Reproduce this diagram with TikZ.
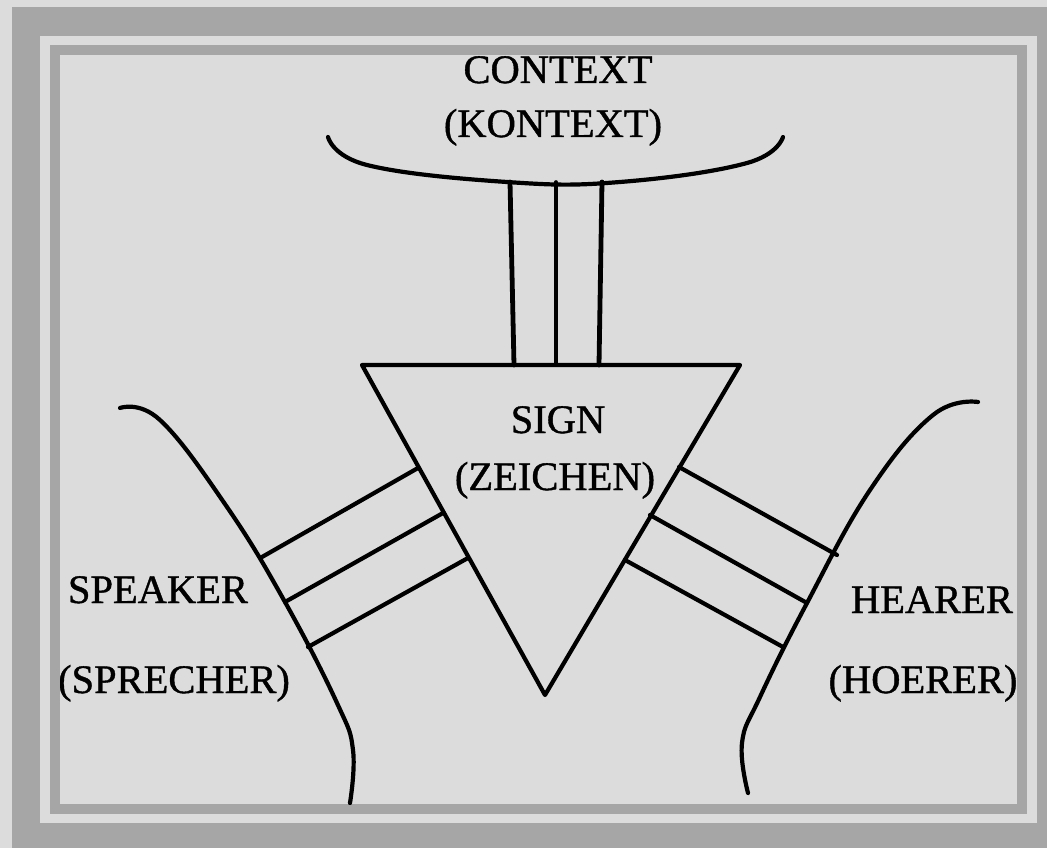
\documentclass[tikz,border=0pt]{standalone}
\usepackage{fontspec}
\setmainfont{Liberation Serif}[FakeBold=1.0]
\definecolor{framedark}{HTML}{A6A6A6}
\definecolor{framelight}{HTML}{DCDCDC}
\begin{document}
\begin{tikzpicture}[x=1pt,y=-1pt,
  ink/.style={line width=4.2pt,line cap=round,line join=round,black},
  lbl/.style={anchor=base,inner sep=0pt,font=\fontsize{40.5}{48}\selectfont}]
\useasboundingbox (0,0) rectangle (1047,848);
% frame
\fill[framedark] (0,0) rectangle (1047,848);
\fill[framelight] (0,0) rectangle (1047,7);
\fill[framelight] (0,0) rectangle (12,848);
\fill[framelight] (40,36) rectangle (1037,823);
\fill[framedark] (50,45) rectangle (1027,814);
\fill[framelight] (60,55) rectangle (1017,804);
\begin{scope}
\clip (60,55) rectangle (1017,804);
% labels
\node[lbl] (ctx) at (558,83) {CONTEXT};
\node[lbl] (ktx) at (553,137) {(KONTEXT)};
\node[lbl] (sign) at (558,433) {SIGN};
\node[lbl] (zei) at (555,490) {(ZEICHEN)};
\node[lbl] (spk) at (158,603) {SPEAKER};
\node[lbl] (spr) at (174,693) {(SPRECHER)};
\node[lbl] (hea) at (932,613) {HEARER};
\node[lbl] (hoe) at (923,693) {(HOERER)};
% triangle
\coordinate (tl) at (362,365);
\coordinate (tr) at (740,365);
\coordinate (tb) at (545,695);
\draw[ink] (tl) -- (tr) -- (tb) -- cycle;
% context curve
\draw[ink] plot[smooth,tension=0.7] coordinates {(328,137) (367,165) (507,182) (620,182) (747,163) (783,137)};
% context bars
\coordinate (c1t) at (510,182); \coordinate (c1b) at (514,365);
\coordinate (c2t) at (556,182); \coordinate (c2b) at (556,365);
\coordinate (c3t) at (602,182); \coordinate (c3b) at (599,365);
\draw[ink,line width=4.8pt] (c1t) -- (c1b);
\draw[ink,line width=3.6pt] (c2t) -- (c2b);
\draw[ink,line width=4.8pt] (c3t) -- (c3b);
% speaker curve
\draw[ink] plot[smooth,tension=0.7] coordinates {(120,408) (160,420) (227,507) (285,602) (337,703) (353,750) (350,803)};
% speaker bars
\coordinate (s1a) at (262,557); \coordinate (s1b) at (418,468);
\coordinate (s2a) at (285,602); \coordinate (s2b) at (443,513);
\coordinate (s3a) at (308,647); \coordinate (s3b) at (468,558);
\draw[ink] (s1a) -- (s1b);
\draw[ink] (s2a) -- (s2b);
\draw[ink] (s3a) -- (s3b);
% hearer curve
\draw[ink] plot[smooth,tension=0.7] coordinates {(978,402) (933,415) (870,490) (807,603) (760,697) (742,743) (748,793)};
% hearer bars
\coordinate (h1a) at (679,467); \coordinate (h1b) at (837,555);
\coordinate (h2a) at (650,515); \coordinate (h2b) at (807,603);
\coordinate (h3a) at (625,560); \coordinate (h3b) at (783,647);
\draw[ink] (h1a) -- (h1b);
\draw[ink] (h2a) -- (h2b);
\draw[ink] (h3a) -- (h3b);
\end{scope}
\end{tikzpicture}
\end{document}
